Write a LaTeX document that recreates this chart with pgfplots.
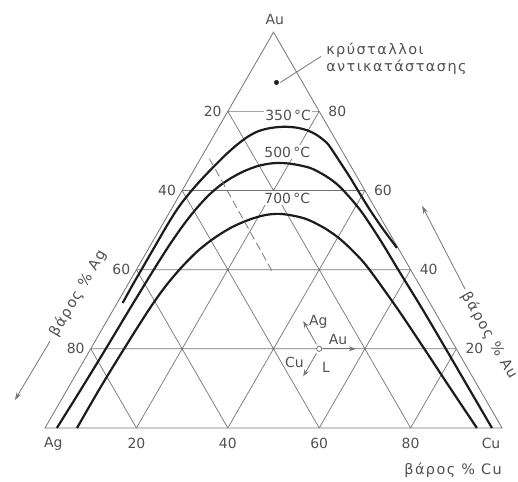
\documentclass[border=0pt]{standalone}
\usepackage{fontspec}
\setmainfont{DejaVu Sans}
\newfontfamily\widesans[LetterSpace=10]{DejaVu Sans}
\newcommand{\greektext}{\fontsize{14.5}{16}\widesans}
\usepackage{pgfplots}
\usepackage{pgfplotstable}
\pgfplotsset{compat=1.18}
\usetikzlibrary{arrows.meta}
\definecolor{ink}{HTML}{505050}
\definecolor{gridc}{HTML}{747474}
\definecolor{curve}{HTML}{1C1C1C}

% ternary composition (wt% Au, wt% Cu) -> position in the triangle Ag(0,0) Cu(100,0) Au(50,86.6)
\pgfplotsset{table/tern/.style={x expr=\thisrow{cu}+0.5*\thisrow{au}, y expr=0.8660254*\thisrow{au}}}

% miscibility-gap boundaries, columns: wt% Au, wt% Cu
\pgfplotstableread{
au   cu
31.6 1.2
36   1.1
40   1.1
45   1.1
50   1.1
54   1.2
57   1.5
60   2.1
63   2.9
66   3.9
69   5.0
71.5 6.2
73.5 7.5
75   9.2
75.8 11.5
76.1 14.2
75.9 17
75.2 19.8
74   22.5
72   25.7
69.5 28.5
66.5 31.7
63.4 35.0
59   39.5
55.1 43.55
51   48.0
48   51.4
45.5 54.25
}\tthreefifty
\pgfplotstableread{
au   cu
0    2.6
10   3.0
20   3.3
30   3.5
40   3.8
46   4.1
51   4.6
55   5.3
58.5 6.3
61   7.5
63   9.0
64.8 11.0
66.2 13.5
66.9 16.5
66.8 20.1
65.7 25.15
63.6 29.7
60.9 34.1
55.1 41.4
47.5 49.6
39.2 58.1
30   67.6
20   77.7
10   87.75
0    97.8
}\tfivehundred
\pgfplotstableread{
au   cu
0    7.0
10   7.0
20   7.3
30   7.8
36   8.5
41   9.7
45   11.2
48.2 13.2
50.8 15.6
52.7 18.5
53.8 21.3
54.1 24.2
53.6 27.7
52.6 31.3
50.3 36.3
47.6 40.9
44.1 45.85
40.3 50.65
30   62.2
20   73.0
10   83.7
0    94.5
}\tsevenhundred

\begin{document}
\begin{tikzpicture}[font=\fontsize{14}{16}\selectfont, every node/.style={text=ink}]
\begin{axis}[
  width=518bp, height=482bp, scale only axis,
  xmin=-9.85, xmax=103.5, ymin=-11.82, ymax=93.65,
  hide axis, clip=false,
]
\coordinate (bl) at (rel axis cs:0,0);
\coordinate (tr) at (rel axis cs:1,1);

% triangle and 20 wt% grid
\draw[gridc, line width=0.8bp] (axis cs:0,0) -- (axis cs:100,0) -- (axis cs:50,86.603) -- cycle;
\draw[gridc, line width=0.7bp]
  (axis cs:10,17.32) -- (axis cs:90,17.32)
  (axis cs:20,34.64) -- (axis cs:80,34.64)
  (axis cs:30,51.96) -- (axis cs:70,51.96)
  (axis cs:40,69.28) -- (axis cs:60,69.28)
  (axis cs:20,0) -- (axis cs:60,69.28)
  (axis cs:40,0) -- (axis cs:70,51.96)
  (axis cs:60,0) -- (axis cs:80,34.64)
  (axis cs:80,0) -- (axis cs:90,17.32)
  (axis cs:80,0) -- (axis cs:40,69.28)
  (axis cs:60,0) -- (axis cs:30,51.96)
  (axis cs:40,0) -- (axis cs:20,34.64)
  (axis cs:20,0) -- (axis cs:10,17.32);

% temperature labels
\node[fill=white, inner sep=1.5bp] at (axis cs:53.2,68.5) {350\,°C};
\node[fill=white, inner sep=1.5bp] at (axis cs:53.0,60.4) {500\,°C};
\node[fill=white, inner sep=1.5bp] at (axis cs:53.0,50.3) {700\,°C};

% isotherms
\addplot[curve, line width=2.2bp, smooth, tension=0.5] table[tern] {\tthreefifty};
\addplot[curve, line width=2.2bp, smooth, tension=0.5] table[tern] {\tfivehundred};
\addplot[curve, line width=2.2bp, smooth, tension=0.5] table[tern] {\tsevenhundred};

% tie line (dashed)
\addplot[gridc, line width=0.8bp, dash pattern=on 8bp off 4bp] table[tern] {
au cu
68 2.0
39 30.5
};

% substitutional solid solution marker
\addplot[only marks, mark=*, mark size=2.2bp, curve] table[tern] {
au cu
87.3 7.0
};
\draw[gridc, line width=0.8bp] (axis cs:51.5,75.6) -- (axis cs:60.4,81.3);
\node[anchor=west, inner sep=0pt] at (axis cs:61.5,82.6) {\greektext κρύσταλλοι};
\node[anchor=west, inner sep=0pt] at (axis cs:61.5,78.9) {\greektext αντικατάστασης};

% corner labels
\node[anchor=south, inner sep=0pt] at (axis cs:50.3,88.2) {Au};
\node[anchor=north, inner sep=0pt] at (axis cs:1.8,-2.1) {Ag};
\node[anchor=north, inner sep=0pt] at (axis cs:97.6,-2.1) {Cu};

% scale on the Au-Ag side (wt% Ag)
\node[anchor=east, inner sep=0pt] at ([xshift=-6bp]axis cs:40,69.28) {20};
\node[anchor=east, inner sep=0pt] at ([xshift=-6bp]axis cs:30,51.96) {40};
\node[anchor=east, inner sep=0pt] at ([xshift=-6bp]axis cs:20,34.64) {60};
\node[anchor=east, inner sep=0pt] at ([xshift=-6bp]axis cs:10,17.32) {80};
% scale on the Au-Cu side (wt% Au)
\node[anchor=west, inner sep=0pt] at ([xshift=9bp]axis cs:60,69.28) {80};
\node[anchor=west, inner sep=0pt] at ([xshift=9bp]axis cs:70,51.96) {60};
\node[anchor=west, inner sep=0pt] at ([xshift=9bp]axis cs:80,34.64) {40};
\node[anchor=west, inner sep=0pt] at ([xshift=9bp]axis cs:90,17.32) {20};
% scale on the Ag-Cu side (wt% Cu)
\node[anchor=north, inner sep=0pt] at (axis cs:20,-2.1) {20};
\node[anchor=north, inner sep=0pt] at (axis cs:40,-2.1) {40};
\node[anchor=north, inner sep=0pt] at (axis cs:60,-2.1) {60};
\node[anchor=north, inner sep=0pt] at (axis cs:80,-2.1) {80};

% axis titles with direction arrows
\node[rotate=59.6, inner sep=0pt] at (axis cs:7.2,29.4) {\greektext βάρος \% Ag};
\draw[gridc, line width=0.8bp, -{Stealth[length=8bp, width=5bp]}] (axis cs:1.1,19.0) -- (axis cs:-6.6,6.1);
\node[rotate=-60, inner sep=0pt] at (axis cs:97.2,20.2) {\greektext βάρος \% Au};
\draw[gridc, line width=0.8bp, -{Stealth[length=8bp, width=5bp]}] (axis cs:91.9,30.4) -- (axis cs:82.5,48.6);
\node[inner sep=0pt] at (axis cs:89.3,-9.2) {\greektext βάρος \% Cu};

% reading key
\draw[gridc, line width=0.8bp, -{Stealth[length=7bp, width=5bp]}] (axis cs:59.4,18.3) -- (axis cs:56.5,23.4);
\draw[gridc, line width=0.8bp, -{Stealth[length=7bp, width=5bp]}] (axis cs:60.8,17.32) -- (axis cs:68,17.32);
\draw[gridc, line width=0.8bp, -{Stealth[length=7bp, width=5bp]}] (axis cs:59.4,16.35) -- (axis cs:56.5,11.3);
\draw[gridc, line width=0.8bp, fill=white] (axis cs:60,17.32) circle[radius=2.6bp];
\node[inner sep=0pt] at (axis cs:59.8,23.2) {Ag};
\node[inner sep=0pt] at (axis cs:64.1,19.4) {Au};
\node[inner sep=0pt] at (axis cs:54.6,14.3) {Cu};
\node[inner sep=0pt] at (axis cs:61.5,13.2) {L};
\end{axis}
\pgfresetboundingbox
\path[use as bounding box] (bl) rectangle (tr);
\end{tikzpicture}
\end{document}
